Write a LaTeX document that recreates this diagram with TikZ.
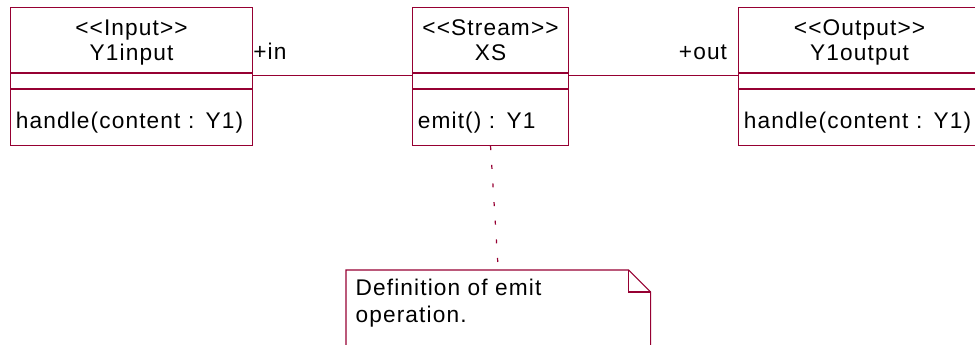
\documentclass[tikz,border=0pt]{standalone}
\usepackage{fontspec}
\setmainfont{Liberation Sans}[LetterSpace=5, Ligatures=TeXOff]
\usepackage{tikz}
\usetikzlibrary{positioning, calc}
\definecolor{umlred}{RGB}{150,0,50}

\begin{document}
\begin{tikzpicture}[
    x=0.75pt, y=-0.75pt,
    every node/.style={font=\fontsize{17}{18.75}\selectfont, text=black},
    namebox/.style={rectangle, draw=umlred, line width=0.8pt, inner sep=0pt,
                    align=center, minimum height=48.75pt,
                    text height=30.75pt, text depth=0pt},
    attrbox/.style={rectangle, draw=umlred, line width=0.8pt, inner sep=0pt,
                    minimum height=11.25pt},
    opbox/.style={rectangle, draw=umlred, line width=0.8pt, inner ysep=0pt,
                  inner xsep=4pt, align=left, minimum height=42pt,
                  text height=16.5pt, text depth=0pt},
    assoc/.style={draw=umlred, line width=0.7pt},
    role/.style={inner sep=0pt},
    anchorline/.style={draw=umlred, line width=0.9pt, dash pattern=on 3pt off 11pt},
  ]

  \useasboundingbox (0,0) rectangle (975,345);

  % ============ INPUT CLASS (left) ============
  \node[namebox, minimum width=181.5pt, anchor=north west] (in-name) at (10,7)
    {<<Input>>\\Y1input};
  \node[attrbox, minimum width=181.5pt, anchor=north] (in-attr) at (in-name.south) {};
  \node[opbox, text width=173.5pt, anchor=north] (in-op) at (in-attr.south)
    {handle(content : Y1)};

  % ============ STREAM CLASS (centre) ============
  \node[namebox, minimum width=117pt, anchor=north west] (xs-name) at (412,7)
    {<<Stream>>\\XS};
  \node[attrbox, minimum width=117pt, anchor=north] (xs-attr) at (xs-name.south) {};
  \node[opbox, text width=109pt, anchor=north] (xs-op) at (xs-attr.south)
    {emit() : Y1};

  % ============ OUTPUT CLASS (right, runs off the edge) ============
  \node[namebox, minimum width=181.5pt, anchor=north west] (out-name) at (738,7)
    {<<Output>>\\Y1output};
  \node[attrbox, minimum width=181.5pt, anchor=north] (out-attr) at (out-name.south) {};
  \node[opbox, text width=173.5pt, anchor=north] (out-op) at (out-attr.south)
    {handle(content : Y1)};

  % ============ ASSOCIATIONS ============
  \draw[assoc] ([yshift=-2pt]in-name.south east) -- ([yshift=-2pt]xs-name.south west);
  \draw[assoc] ([yshift=-2pt]xs-name.south east) -- ([yshift=-2pt]out-name.south west);

  % role names above the line ends
  \node[role, anchor=base west] (in-role) at ([yshift=10pt]in-name.south east) {+in};
  \node[role, anchor=base east] (out-role) at ([xshift=-8pt, yshift=10pt]out-name.south west) {+out};

  % ============ NOTE ============
  \node[minimum width=228pt, minimum height=67.5pt, inner sep=0pt, anchor=north west]
    (note) at (346,270) {};
  \draw[umlred, line width=0.8pt]
    (note.north west) -- ([xshift=-16.5pt]note.north east)
    -- ([yshift=-16.5pt]note.north east) -- (note.south east)
    -- (note.south west) -- cycle;
  \draw[umlred, line width=0.8pt]
    ([xshift=-16.5pt]note.north east) |- ([yshift=-16.5pt]note.north east);
  \node[anchor=base west, align=left, inner sep=0pt] (note-text)
    at ([xshift=7pt, yshift=-39.75pt]note.north west) {Definition of emit\\[1.5pt]operation.};

  % note anchor to the operation
  \draw[anchorline] (xs-op.south) -- (note.north);

\end{tikzpicture}
\end{document}
